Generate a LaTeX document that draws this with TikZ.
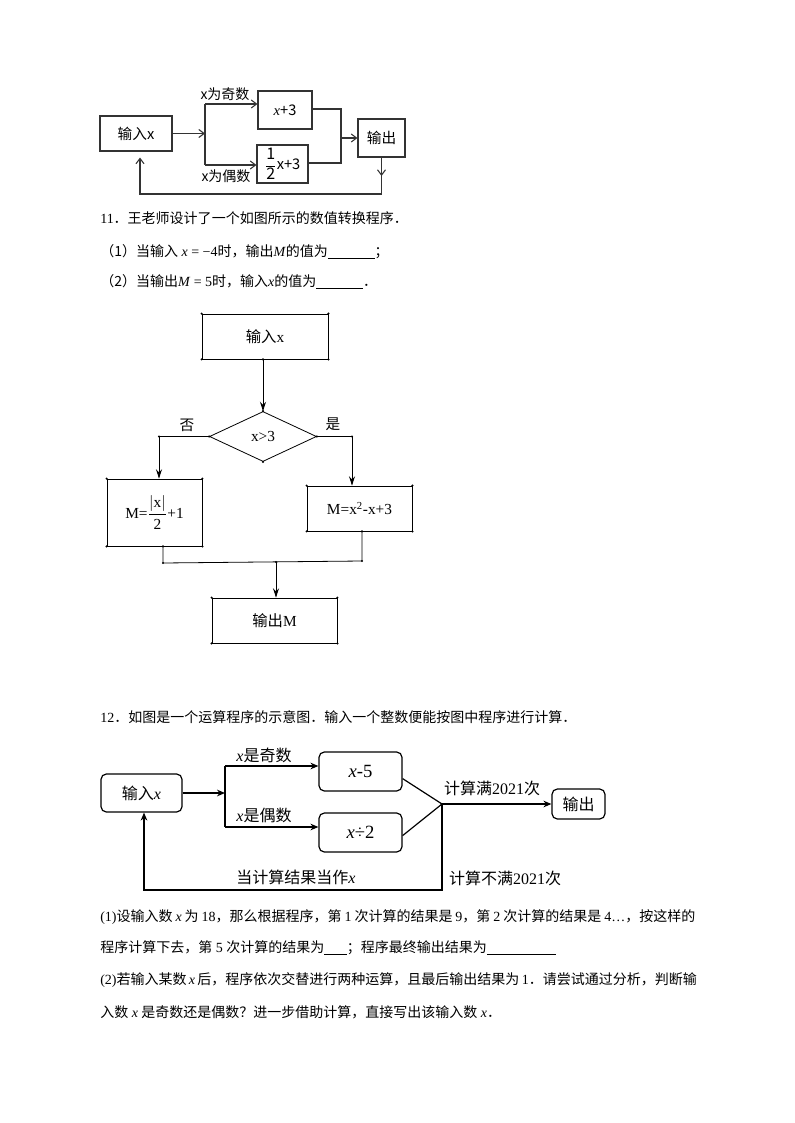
\documentclass[tikz,border=0pt]{standalone}
\usepackage{amsmath}
\usepackage{fontspec}
\setmainfont{Liberation Serif}
\newfontfamily\cjk{Noto Sans CJK SC}
\usetikzlibrary{shapes.geometric,arrows.meta,calc}
\XeTeXlinebreaklocale "zh"
\XeTeXlinebreakskip=0pt plus 3pt
\newcommand\zh[1]{{\cjk#1}}
\newcommand\blank[1]{\rule[-1.5pt]{#1}{0.5pt}}
\begin{document}
\begin{tikzpicture}[x=0.75pt,y=-0.75pt,
  sz/.style 2 args={minimum width=#1*0.75pt,minimum height=#2*0.75pt},
  lineA/.style={line width=0.8pt,draw=black!80},
  arrA/.style={lineA,-{Straight Barb[length=4pt,width=6pt]}},
  boxA/.style={draw=black!80,line width=0.8pt,inner sep=0pt,font=\cjk\fontsize{11}{13}\selectfont},
  lblA/.style={inner sep=0pt,font=\cjk\fontsize{10.5}{12}\selectfont},
  lineB/.style={line width=0.6pt},
  arrB/.style={lineB,-{Stealth[length=7pt,width=4.5pt]}},
  boxB/.style={draw,line width=0.6pt,inner sep=0pt,font=\fontsize{11.5}{13}\selectfont},
  lblB/.style={inner sep=0pt,font=\cjk\fontsize{11}{13}\selectfont},
  lineC/.style={line width=0.9pt},
  arrC/.style={lineC,-{Stealth[length=6pt,width=5pt]}},
  boxC/.style={draw,rounded corners=4pt,line width=0.9pt,inner sep=0pt,font=\fontsize{12}{14}\selectfont},
  lblC/.style={inner sep=0pt,font=\fontsize{12}{14}\selectfont},
  txt/.style={anchor=west,inner sep=0pt,font=\fontsize{10.5}{12}\selectfont}]
\useasboundingbox[fill=white] (0,0) rectangle (794,1123);

% ---------------- Diagram 1 ----------------
\node[boxA,sz={72}{35}] (a-in) at (136,133.5) {输入x};
\node[boxA,sz={54}{38}] (a-odd) at (285,110) {{\rmfamily\itshape x}+3};
\node[boxA,sz={51}{38}] (a-even) at (282.5,164) {$\displaystyle\frac{\mbox{\fontsize{12}{14}\selectfont 1}}{\mbox{\fontsize{12}{14}\selectfont 2}}$x+3};
\node[boxA,sz={47}{38}] (a-out) at (381.5,138) {输出};
\node[lblA] (a-l1) at (225,94) {x为奇数};
\node[lblA] (a-l2) at (226,176) {x为偶数};
\coordinate (a-j) at (205,133.5);
\coordinate (a-t) at (205,104);
\coordinate (a-b) at (205,165);
\coordinate (a-r1) at (341,109);
\coordinate (a-r2) at (341,163);
\coordinate (a-rm) at (341,138);
\coordinate (a-f0) at (381.5,176);
\coordinate (a-f1) at (381.5,194);
\coordinate (a-f2) at (140,194);
\draw[arrA] (a-in.east) -- (a-j);
\draw[lineA] (a-t) -- (a-b);
\draw[arrA] (a-t) -- (a-odd.west |- a-t);
\draw[arrA] (a-b) -- (a-even.west |- a-b);
\draw[lineA] (a-odd.east |- a-r1) -- (a-r1) -- (a-r2) -- (a-even.east |- a-r2);
\draw[arrA] (a-rm) -- (a-out.west |- a-rm);
\draw[arrA] (a-out.south) -- (a-f0);
\draw[arrA] (a-out.south) -- (a-f1) -- (a-f2) -- ([yshift=-4.5pt]a-in.south -| a-f2);

% ---------------- Text 11 ----------------
\node[txt] (t11) at (100,218) {11\zh{．王老师设计了一个如图所示的数值转换程序．}};
\node[txt] (t11a) at (100,252) {\zh{（1）当输入} \textit{x} = −4\zh{时，输出}\textit{M}\zh{的值为}\blank{35pt}\zh{；}};
\node[txt] (t11b) at (100,282) {\zh{（2）当输出}\textit{M} = 5\zh{时，输入}\textit{x}\zh{的值为}\blank{35pt}\zh{．}};

% ---------------- Diagram 2 ----------------
\node[boxB,sz={126}{45}] (b-in) at (265,336.5) {\zh{输入}x};
\node[draw,diamond,line width=0.6pt,inner sep=0pt,minimum width=80.25pt,minimum height=37.5pt,font=\fontsize{11.5}{13}\selectfont] (b-d) at (263,436.5) {x>3};
\node[boxB,sz={95}{67}] (b-no) at (154.5,512.5) {M=$\displaystyle\frac{|\mbox{x}|}{\mbox{2}}$+1};
\node[boxB,sz={105}{45}] (b-yes) at (359.5,508.5) {M=x\textsuperscript{2}-x+3};
\node[boxB,sz={125}{45}] (b-out) at (274.5,620.5) {\zh{输出}M};
\node[lblB] (b-l1) at (187,425) {否};
\node[lblB] (b-l2) at (333,424) {是};
\coordinate (b-nl) at (159,436.5);
\coordinate (b-yr) at (352,436.5);
\coordinate (b-m1) at (163,563);
\coordinate (b-m2) at (362,561);
\coordinate (b-mj) at (276,562);
\draw[arrB] (b-d.north |- b-in.south) -- (b-d.north);
\draw[arrB] (b-d.west) -- (b-nl) -- (b-nl |- b-no.north);
\draw[arrB] (b-d.east) -- (b-yr) -- (b-yr |- b-yes.north);
\draw[lineB] (b-no.south -| b-m1) -- (b-m1) -- (b-m2) -- (b-yes.south -| b-m2);
\draw[arrB] (b-mj) -- (b-mj |- b-out.north);
\foreach \n in {b-in,b-no,b-yes,b-out}
  \foreach \a in {north west,north east,south west,south east}
    \fill (\n.\a) circle (0.9pt);
\foreach \a in {north,south,east,west} \fill (b-d.\a) circle (0.9pt);
\foreach \c in {b-nl,b-yr,b-m1,b-m2,b-mj} \fill (\c) circle (0.9pt);
\fill (b-d.north |- b-in.south) circle (0.9pt);
\fill (b-no.south -| b-m1) circle (0.9pt);
\fill (b-yes.south -| b-m2) circle (0.9pt);

% ---------------- Text 12 ----------------
\node[txt] (t12) at (100,717) {12\zh{．如图是一个运算程序的示意图．输入一个整数便能按图中程序进行计算．}};

% ---------------- Diagram 3 ----------------
\node[boxC,sz={81}{38}] (c-in) at (141.5,793) {\zh{输入}\textit{x}\hspace{12pt}};
\node[boxC,sz={83}{39},font=\fontsize{14}{16}\selectfont] (c-odd) at (360.5,771.5) {\textit{x}-5\hspace{6pt}};
\node[boxC,sz={83}{39},font=\fontsize{14}{16}\selectfont] (c-even) at (360.5,832.5) {\textit{x}÷2\hspace{12pt}};
\node[boxC,sz={53}{30}] (c-out) at (578.5,804) {\zh{输出}};
\node[lblC] (c-l1) at (264,755) {\textit{x}\zh{是奇数}};
\node[lblC] (c-l2) at (264,815) {\textit{x}\zh{是偶数}};
\node[lblC] (c-l3) at (492,788) {\zh{计算满}2021\zh{次}};
\node[lblC] (c-l4) at (296,877) {\zh{当计算结果当作}\textit{x}};
\node[lblC] (c-l5) at (505,878) {\zh{计算不满}2021\zh{次}};
\coordinate (c-j) at (225,793);
\coordinate (c-t) at (225,766);
\coordinate (c-b) at (225,827);
\coordinate (c-p) at (442,804);
\coordinate (c-f1) at (442,890);
\coordinate (c-f2) at (144,890);
\draw[arrC] (c-in.east) -- (c-j);
\draw[lineC] (c-t) -- (c-b);
\draw[arrC] (c-t) -- (c-odd.west |- c-t);
\draw[arrC] (c-b) -- (c-even.west |- c-b);
\draw[lineC] ([yshift=9.75pt]c-odd.south east) -- (c-p) -- ([yshift=12.75pt]c-even.south east);
\draw[arrC] (c-p) -- (c-out.west |- c-p);
\draw[arrC] (c-p) -- (c-f1) -- (c-f2) -- (c-f2 |- c-in.south);

% ---------------- Text below ----------------
\node[txt] (t12a) at (100,917) {\makebox[446.25pt][s]{(1)\zh{设输入数} \textit{x} \zh{为} 18\zh{，那么根据程序，第} 1 \zh{次计算的结果是} 9\zh{，第} 2 \zh{次计算的结果是} 4…\zh{，按这样的}}};
\node[txt] (t12b) at (100,948) {\zh{程序计算下去，第} 5 \zh{次计算的结果为}\blank{17pt}\zh{；程序最终输出结果为}\blank{52pt}};
\node[txt] (t12c) at (100,980) {\makebox[446.25pt][s]{(2)\zh{若输入某数} \textit{x} \zh{后，程序依次交替进行两种运算，且最后输出结果为} 1\zh{．请尝试通过分析，判断输}}};
\node[txt] (t12d) at (100,1012) {\zh{入数} \textit{x} \zh{是奇数还是偶数？进一步借助计算，直接写出该输入数} \textit{x}\zh{．}};
\end{tikzpicture}
\end{document}
